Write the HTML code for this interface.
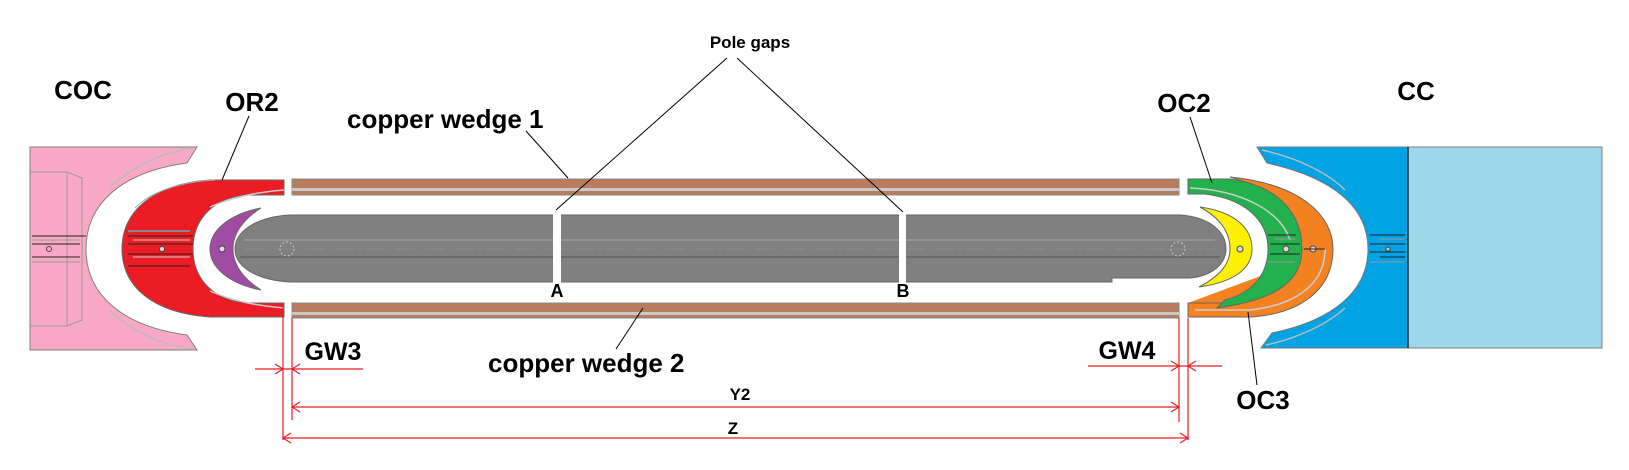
<!DOCTYPE html>
<html><head><meta charset="utf-8"><style>
html,body{margin:0;padding:0;background:#fff;}
svg{display:block;}
text{font-family:"Liberation Sans",Arial,sans-serif;font-weight:bold;fill:#000;}
</style></head><body>
<svg width="1629" height="470" viewBox="0 0 1629 470" xmlns="http://www.w3.org/2000/svg">
<!-- COC pink -->
<path d="M30,147 L197,147 L187,163 C120,172 86,205 86,249 C86,293 120,326 187,335 L197,350 L30,350 Z" fill="#f9a9c6" stroke="#808080" stroke-width="1"/>
<path d="M30,172 L67,172 L82,178 L82,320 L67,326 L30,326" fill="none" stroke="#999" stroke-width="1"/>
<line x1="67" y1="172" x2="67" y2="326" stroke="#999"/>
<path d="M110,187 C140,160 170,152 192,148" fill="none" stroke="#bbb" stroke-width="1.5"/>
<path d="M110,311 C140,338 170,346 192,349" fill="none" stroke="#bbb" stroke-width="1.5"/>
<g stroke="#222" stroke-width="1"><line x1="32" y1="236" x2="86" y2="236"/><line x1="32" y1="244" x2="80" y2="244"/><line x1="32" y1="257" x2="80" y2="257"/></g>
<g stroke="#999" stroke-width="1"><line x1="32" y1="240" x2="80" y2="240"/><line x1="32" y1="262" x2="80" y2="262"/></g>
<circle cx="49" cy="249" r="2.5" fill="none" stroke="#444"/>
<!-- OR2 red -->
<path d="M284,180 L210,180 C152,184 122,212 122,249 C122,286 152,313 210,317 L284,317 L284,303 L250,303 C215,302 193,280 193,249 C193,218 215,196 250,195 L284,195 Z" fill="#ec1c24" stroke="#666" stroke-width="1"/>
<path d="M135,208 C150,192 180,182 215,180" fill="none" stroke="#aaa"/>
<path d="M210,207 C235,196 260,192 284,190" fill="none" stroke="#ccc" stroke-width="1.5"/>
<path d="M210,291 C235,302 260,306 284,308" fill="none" stroke="#ccc" stroke-width="1.5"/>
<g stroke="#888" stroke-width="2"><line x1="128" y1="231" x2="190" y2="231"/></g>
<g stroke="#222" stroke-width="1"><line x1="128" y1="236" x2="193" y2="236"/><line x1="128" y1="244" x2="193" y2="244"/><line x1="128" y1="254" x2="193" y2="254"/><line x1="128" y1="266" x2="190" y2="266"/></g>
<g stroke="#ccc" stroke-width="1"><line x1="133" y1="240" x2="190" y2="240"/><line x1="133" y1="257" x2="190" y2="257"/></g>
<circle cx="162" cy="249" r="2.5" fill="#ddd" stroke="#444"/>
<!-- purple -->
<path d="M261,208 C230,214 210,230 210,249 C210,268 230,284 261,290 C245,280 233,266 233,249 C233,232 245,218 261,208 Z" fill="#a04ca4" stroke="#666"/>
<circle cx="222" cy="249" r="3" fill="#ddd" stroke="#444"/>
<!-- copper wedges -->
<rect x="292" y="179" width="887" height="16" fill="#b97c5c" stroke="#888" stroke-width="1"/>
<rect x="292" y="188" width="887" height="3" fill="#c8c8c8"/>
<rect x="292" y="303" width="887" height="15" fill="#b97c5c" stroke="#888" stroke-width="1"/>
<rect x="292" y="312" width="887" height="3" fill="#c8c8c8"/>
<!-- gray body -->
<path d="M290,215 L1180,215 C1210,217 1226,232 1226,249 C1226,264 1212,276 1190,278 L1112,278 L1112,282 L290,282 C255,280 235,266 235,249 C235,232 255,217 290,215 Z" fill="#808080" stroke="#666"/>
<line x1="245" y1="240" x2="1215" y2="240" stroke="#aaa" stroke-width="1"/>
<line x1="240" y1="257" x2="1220" y2="257" stroke="#555" stroke-width="1"/>
<line x1="245" y1="249" x2="1215" y2="249" stroke="#999" stroke-width="0.6" stroke-dasharray="20,4,2,4"/>
<circle cx="287" cy="249" r="7" fill="none" stroke="#ccc" stroke-dasharray="2,2"/>
<circle cx="1178" cy="249" r="7" fill="none" stroke="#ccc" stroke-dasharray="2,2"/>
<rect x="553" y="210" width="8" height="76" fill="#fff"/>
<rect x="899" y="210" width="7" height="76" fill="#fff"/>
<!-- CC blue -->
<path d="M1257,147 L1408,147 L1408,348 L1261,348 L1272,333 C1335,320 1368,290 1368,249 C1368,208 1335,178 1267,163 Z" fill="#00a3e4" stroke="#777"/>
<path d="M1262,150 C1300,158 1330,175 1345,190" fill="none" stroke="#bbb" stroke-width="1.5"/>
<path d="M1266,345 C1300,338 1330,322 1345,308" fill="none" stroke="#bbb" stroke-width="1.5"/>
<rect x="1408" y="147" width="194" height="201" fill="#9ad8ea" stroke="#808080"/>
<line x1="1408" y1="147" x2="1408" y2="348" stroke="#222" stroke-width="1.5"/>
<g stroke="#222"><line x1="1370" y1="235" x2="1405" y2="235"/><line x1="1370" y1="244" x2="1405" y2="244"/><line x1="1370" y1="252" x2="1405" y2="252"/><line x1="1380" y1="257" x2="1405" y2="257"/></g>
<g stroke="#999"><line x1="1380" y1="239" x2="1405" y2="239"/><line x1="1370" y1="262" x2="1405" y2="262"/></g>
<circle cx="1388" cy="249" r="2" fill="#ccc" stroke="#444"/>
<!-- orange OC3 -->
<path d="M1188,303 L1250,303 C1300,298 1333,280 1333,249 C1333,215 1300,185 1230,177 L1245,180 C1280,190 1305,215 1305,249 C1305,280 1285,303 1250,310 L1188,310 L1188,317 L1250,317 C1300,312 1333,290 1333,249 Z" fill="#f58220"/>
<path d="M1230,177 C1300,184 1333,215 1333,249 C1333,290 1300,314 1250,317 L1188,317 L1188,303 L1240,303 C1280,295 1300,275 1300,249 C1300,215 1275,190 1230,177 Z" fill="#f58220" stroke="#666"/>
<path d="M1195,310 L1250,310 C1295,305 1325,285 1325,249" fill="none" stroke="#ccc" stroke-width="1.5"/>
<!-- green OC2 -->
<path d="M1188,179 L1230,179 C1280,186 1302,215 1302,249 C1302,282 1275,300 1217,308 L1225,300 C1255,292 1268,272 1268,249 C1268,220 1245,199 1205,194 L1188,194 Z" fill="#22b14c" stroke="#666"/>
<path d="M1190,188 C1240,190 1280,210 1290,240" fill="none" stroke="#ccc" stroke-width="1.5"/>
<g stroke="#222"><line x1="1268" y1="235" x2="1296" y2="235"/><line x1="1270" y1="244" x2="1300" y2="244"/><line x1="1270" y1="254" x2="1300" y2="254"/></g>
<g stroke="#999"><line x1="1275" y1="239" x2="1295" y2="239"/><line x1="1268" y1="262" x2="1295" y2="262"/></g>
<circle cx="1286" cy="249" r="3" fill="#ddd" stroke="#444"/>
<circle cx="1313" cy="249" r="3" fill="#ddd" stroke="#444"/>
<line x1="1304" y1="249" x2="1325" y2="249" stroke="#222"/>
<!-- yellow -->
<path d="M1200,207 C1235,212 1252,228 1252,249 C1252,268 1235,282 1199,287 C1220,276 1230,264 1230,249 C1230,232 1220,218 1200,207 Z" fill="#fff200" stroke="#666"/>
<circle cx="1240" cy="249" r="3" fill="#ddd" stroke="#444"/>
<!-- leader lines -->
<g stroke="#000" stroke-width="1" fill="none">
<line x1="249" y1="116" x2="222" y2="180"/>
<line x1="526" y1="131" x2="568" y2="178"/>
<line x1="727" y1="58" x2="556" y2="210"/>
<line x1="737" y1="58" x2="903" y2="212"/>
<line x1="1190" y1="117" x2="1212" y2="183"/>
<line x1="616" y1="349" x2="643" y2="308"/>
<line x1="1257" y1="385" x2="1248" y2="312"/>
</g>
<!-- dimension lines -->
<g stroke="#ed1c24" stroke-width="1.2" fill="none">
<line x1="283" y1="305" x2="283" y2="440"/>
<line x1="292" y1="318" x2="292" y2="420"/>
<line x1="1179" y1="318" x2="1179" y2="422"/>
<line x1="1188" y1="318" x2="1188" y2="440"/>
<line x1="255" y1="369" x2="363" y2="369"/>
<path d="M275,364 L283,369 L275,374"/><path d="M300,364 L292,369 L300,374"/>
<line x1="1088" y1="366" x2="1222" y2="366"/>
<path d="M1171,361 L1179,366 L1171,371"/><path d="M1196,361 L1188,366 L1196,371"/>
<line x1="292" y1="407" x2="1179" y2="407"/>
<path d="M300,402 L292,407 L300,412"/><path d="M1171,402 L1179,407 L1171,412"/>
<line x1="283" y1="438" x2="1188" y2="438"/>
<path d="M291,433 L283,438 L291,443"/><path d="M1180,433 L1188,438 L1180,443"/>
</g>
<!-- labels -->
<text x="83" y="99" font-size="26" text-anchor="middle">COC</text>
<text x="252" y="111" font-size="26" text-anchor="middle">OR2</text>
<text x="347" y="128" font-size="26">copper wedge 1</text>
<text x="750" y="48" font-size="17" text-anchor="middle">Pole gaps</text>
<text x="1184" y="112" font-size="26" text-anchor="middle">OC2</text>
<text x="1416" y="100" font-size="26" text-anchor="middle">CC</text>
<text x="557" y="297" font-size="18" text-anchor="middle">A</text>
<text x="903" y="297" font-size="18" text-anchor="middle">B</text>
<text x="333" y="360" font-size="25" text-anchor="middle">GW3</text>
<text x="1127" y="359" font-size="25" text-anchor="middle">GW4</text>
<text x="488" y="372" font-size="26">copper wedge 2</text>
<text x="1263" y="409" font-size="26" text-anchor="middle">OC3</text>
<text x="740" y="400" font-size="17" text-anchor="middle" font-weight="normal">Y2</text>
<text x="733" y="434" font-size="17" text-anchor="middle" font-weight="normal">Z</text>
</svg>
</body></html>
